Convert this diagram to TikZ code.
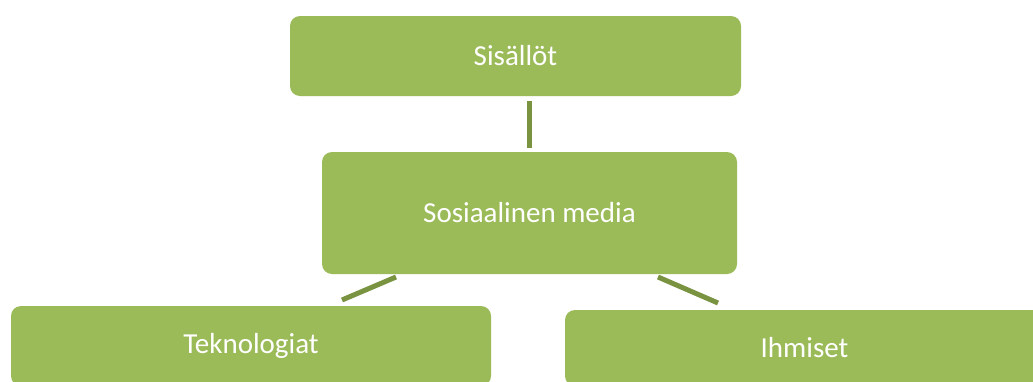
\documentclass[tikz,border=0pt]{standalone}
\usepackage{fontspec}
\setmainfont{Carlito}
\begin{document}
\definecolor{boxgreen}{HTML}{9BBB59}
\definecolor{linkgreen}{HTML}{7A9340}
\begin{tikzpicture}[x=1pt,y=-1pt,
  box/.style={fill=boxgreen, rounded corners=10pt, text=white,
    font=\fontsize{29}{32}\selectfont, inner sep=0pt, anchor=center},
  link/.style={draw=linkgreen, line width=5pt, line cap=butt}]
\useasboundingbox (0,0) rectangle (1033,381);
\clip (0,0) rectangle (1033,381);
% the four topic boxes
\node[box, minimum width=451pt, minimum height=80pt] (sis) at (515.5,56) {Sisällöt};
\node[box, minimum width=415pt, minimum height=122pt] (soc) at (529.5,213) {Sosiaalinen media};
\node[box, minimum width=480pt, minimum height=80pt] (tek) at (251,346) {Teknologiat};
\node[box, minimum width=479pt, minimum height=76pt] (ihm) at (804.5,348) {Ihmiset};
% connector end points
\coordinate (a1) at (529,101);
\coordinate (a2) at (529,148);
\coordinate (b1) at (396,277);
\coordinate (b2) at (342,300);
\coordinate (c1) at (658,277);
\coordinate (c2) at (718,303);
\draw[link] (a1) -- (a2);
\draw[link] (b1) -- (b2);
\draw[link] (c1) -- (c2);
\end{tikzpicture}
\end{document}
